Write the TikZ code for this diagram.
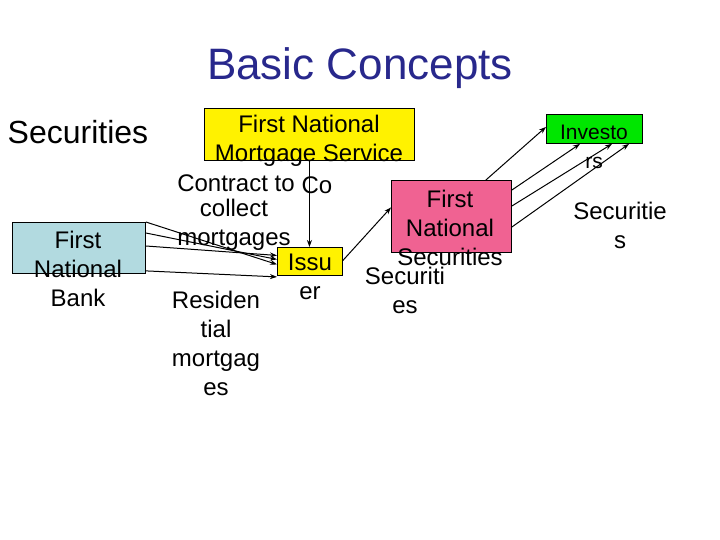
\documentclass[tikz,border=0pt]{standalone}
\usepackage{fontspec}
\setmainfont{Liberation Sans}
\usetikzlibrary{arrows.meta}
\begin{document}
\begin{tikzpicture}[x=1pt,y=-1pt,
  box/.style={draw=black,line width=0.9pt,inner sep=0pt,anchor=north west},
  txt/.style={align=center,font=\fontsize{24}{29}\selectfont,inner sep=0pt},
  arr/.style={-{Stealth[length=7pt,width=5pt]},line width=1pt}]
\useasboundingbox (0,0) rectangle (720,540);
\node[anchor=center,font=\fontsize{44}{48}\selectfont,text={rgb,255:red,40;green,40;blue,140}] (title) at (360,68) {Basic Concepts};
\node[font=\fontsize{32}{34}\selectfont] (sec) at (78,132) {Securities};
\node[box,fill={rgb,255:red,178;green,218;blue,224},minimum width=133pt,minimum height=51pt] (bank) at (12,222) {};
\node[box,fill=yellow,minimum width=210pt,minimum height=52pt] (fnms) at (204,108) {};
\node[box,fill=yellow,minimum width=65pt,minimum height=28pt] (issuer) at (277,247) {};
\node[box,fill={rgb,255:red,240;green,98;blue,146},minimum width=120pt,minimum height=72pt] (fns) at (391,180) {};
\node[box,fill={rgb,255:red,0;green,230;blue,0},minimum width=96pt,minimum height=29pt] (inv) at (546,114) {};
\node[txt] (tbank) at (78,269) {First\\National\\Bank};
\node[txt] (tfnms) at (309,141) {First National\\Mortgage Service};
\node[txt] (tcontract) at (236,183) {Contract to};
\node[txt] (tco) at (317,185) {Co};
\node[txt] (tcollect) at (234,225) {collect\\mortgages};
\node[txt] (tissuer) at (310,277) {Issu\\er};
\node[txt] (tres) at (216,343) {Residen\\tial\\mortgag\\es};
\node[txt] (tfns) at (450,228) {First\\National\\Securities};
\node[txt] (tsec2) at (405,290) {Securiti\\es};
\node[txt,font=\fontsize{21}{29}\selectfont] (tinv) at (594,147) {Investo\\rs};
\node[txt] (tsec3) at (620,225) {Securitie\\s};
\draw[arr] (bank.north east) -- ([yshift=-3pt]issuer.west);
\draw[arr] ([yshift=-11pt]bank.north east) -- ([yshift=2pt]issuer.west);
\draw[arr] ([yshift=-24pt]bank.north east) -- ([yshift=6pt]issuer.west);
\draw[arr] ([yshift=3pt]bank.south east) -- ([yshift=-1pt]issuer.south west);
\coordinate (fs) at (fnms.south);
\draw[arr] (fs) -- (fs |- issuer.north);
\draw[arr] ([yshift=1pt]issuer.east) -- ([yshift=9pt]fns.west);
\draw[arr] ([xshift=-26pt]fns.north east) -- ([yshift=2pt]inv.west);
\draw[arr] ([yshift=-10pt]fns.north east) -- ([xshift=34pt]inv.south west);
\draw[arr] ([yshift=-26pt]fns.north east) -- ([xshift=66pt]inv.south west);
\draw[arr] ([yshift=-47pt]fns.north east) -- ([xshift=83pt]inv.south west);
\end{tikzpicture}
\end{document}
